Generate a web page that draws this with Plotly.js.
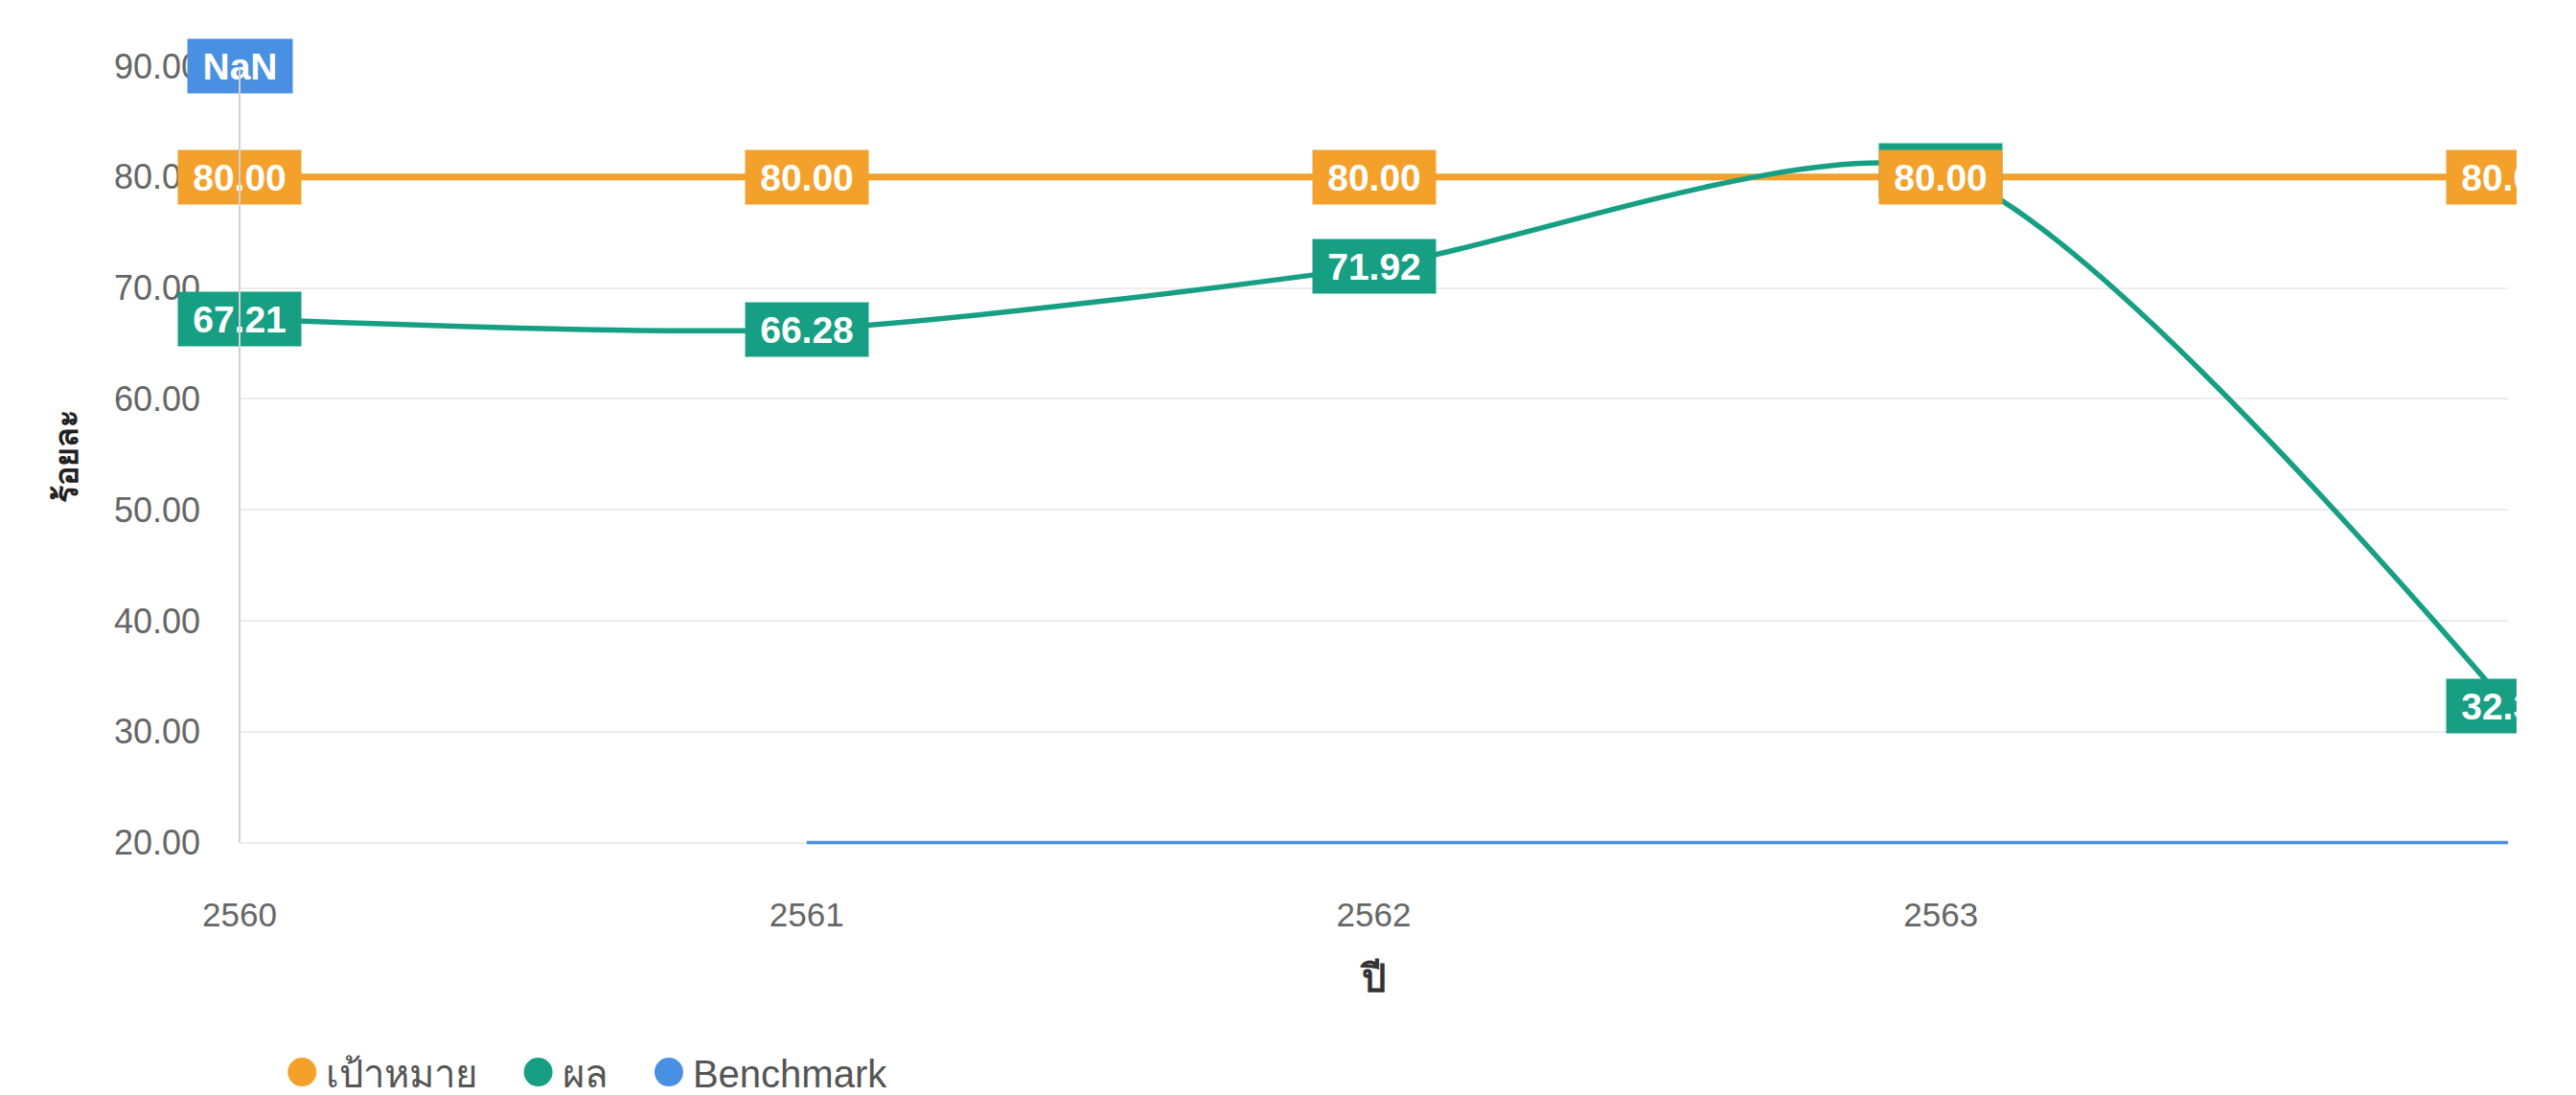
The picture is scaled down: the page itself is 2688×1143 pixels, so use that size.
<!DOCTYPE html>
<html><head><meta charset="utf-8">
<script src="https://cdn.plot.ly/plotly-3.0.1.min.js"></script>
<style>html,body{margin:0;padding:0;background:#fff;overflow:hidden}#chart{width:2626px;height:1143px}</style>
</head><body><div id="chart"></div>
<script>
// ---- data ----
const years = [2560, 2561, 2562, 2563, 2564];
const xTickVals = [2560, 2561, 2562, 2563];
const xTickLabels = ['2560', '2561', '2562', '2563'];
const yTickVals = [20, 30, 40, 50, 60, 70, 80, 90];
const targetName = 'เป้าหมาย';
const resultName = 'ผล';
const benchName = 'Benchmark';
const targetValues = [80, 80, 80, 80, 80];
const resultValues = [67.21, 66.28, 71.92, 80.61, 32.33];
const benchValues = [null, 20, 20, 20, 20];
const benchLabelText = ['NaN', null, null, null, null];
const xTitle = 'ปี';
const yTitle = 'ร้อยละ';

// ---- styles ----
const C_ORANGE = '#F3A12A';
const C_GREEN = '#179F84';
const C_BLUE = '#4A90E2';
const LABEL_FONT = {family: 'Liberation Sans, Arial, sans-serif', size: 39, color: '#ffffff', weight: 'bold'};
const YMAX = 90;
const YMIN_VIEW = 19.7;
const LEGEND_PAD = '\u00a0\u00a0\u00a0';

const ctx = document.createElement('canvas').getContext('2d');
ctx.font = 'bold 39px "Liberation Sans", Arial, sans-serif';
function boxWidth(t) { return Math.ceil(ctx.measureText(t).width) + 22; }

function labelAnn(x, y, txt, color) {
  return {
    x: x, y: y, xref: 'x', yref: 'y', text: txt, showarrow: false,
    font: LABEL_FONT, bgcolor: color, borderpad: 4, width: boxWidth(txt), height: 48,
    xanchor: 'center', yanchor: 'middle'
  };
}

const annotations = [];
years.forEach((yr, i) => { if (resultValues[i] != null) annotations.push(labelAnn(yr, resultValues[i], resultValues[i].toFixed(2), C_GREEN)); });
years.forEach((yr, i) => { if (targetValues[i] != null) annotations.push(labelAnn(yr, targetValues[i], targetValues[i].toFixed(2), C_ORANGE)); });
years.forEach((yr, i) => { if (benchLabelText[i] != null) annotations.push(labelAnn(yr, YMAX, benchLabelText[i], C_BLUE)); });
// y axis line drawn above labels
annotations.push({x: years[0], y: yTickVals[0], xref: 'x', yref: 'y', axref: 'x', ayref: 'y', ax: years[0], ay: YMAX,
  text: '', showarrow: true, arrowhead: 0, arrowwidth: 2, arrowcolor: '#d2d2d2', standoff: 0, startstandoff: 0});

const traces = [
  {x: years, y: targetValues, name: targetName, mode: 'lines', line: {color: C_ORANGE, width: 7}, showlegend: false, legendgroup: 't', hoverinfo: 'skip'},
  {x: years, y: resultValues, name: resultName, mode: 'lines', line: {color: C_GREEN, width: 5.5, shape: 'spline', smoothing: 0.7}, showlegend: false, legendgroup: 'r', hoverinfo: 'skip'},
  {x: years, y: benchValues, name: benchName, mode: 'lines', line: {color: C_BLUE, width: 3.5}, showlegend: false, legendgroup: 'b', hoverinfo: 'skip'},
  {x: [null], y: [null], name: targetName + LEGEND_PAD, mode: 'markers', marker: {color: C_ORANGE, size: 16}, legendgroup: 't'},
  {x: [null], y: [null], name: resultName + LEGEND_PAD, mode: 'markers', marker: {color: C_GREEN, size: 16}, legendgroup: 'r'},
  {x: [null], y: [null], name: benchName, mode: 'markers', marker: {color: C_BLUE, size: 16}, legendgroup: 'b'}
];

const layout = {
  width: 2626, height: 1143,
  margin: {l: 250, r: 9, t: 69, b: 260, autoexpand: false},
  paper_bgcolor: '#ffffff', plot_bgcolor: '#ffffff',
  font: {family: 'Liberation Sans, Arial, sans-serif', color: '#666'},
  showlegend: true,
  xaxis: {
    range: [2560, 2564], tickvals: xTickVals, ticktext: xTickLabels, automargin: false,
    showgrid: false, zeroline: false, showline: false, ticks: '',
    ticklabelstandoff: 48,
    tickfont: {size: 35, color: '#666'},
    title: {text: xTitle, font: {size: 40, color: '#333', weight: 'bold'}, standoff: 33}
  },
  yaxis: {
    range: [YMIN_VIEW, 90], tickvals: yTickVals, tickformat: '.2f', automargin: false,
    showgrid: true, gridcolor: '#ececec', gridwidth: 2, zeroline: false,
    showline: false, ticks: '',
    ticklabelstandoff: 40,
    tickfont: {size: 36, color: '#666'},
    title: {text: yTitle, font: {size: 34, color: '#222', weight: 'bold'}, standoff: 27}
  },
  legend: {orientation: 'h', x: 0.017, xanchor: 'left', y: -0.29, yanchor: 'middle',
    font: {size: 40, color: '#555'}, itemwidth: 40},
  annotations: annotations
};

Plotly.newPlot('chart', traces, layout, {displayModeBar: false, staticPlot: true}).then(gd => {
  gd.querySelectorAll('.legendpoints path.scatterpts').forEach(p => {
    p.setAttribute('d', 'M15,0A15,15 0 1,1 0,-15A15,15 0 0,1 15,0Z');
  });
});
</script>
</body></html>
